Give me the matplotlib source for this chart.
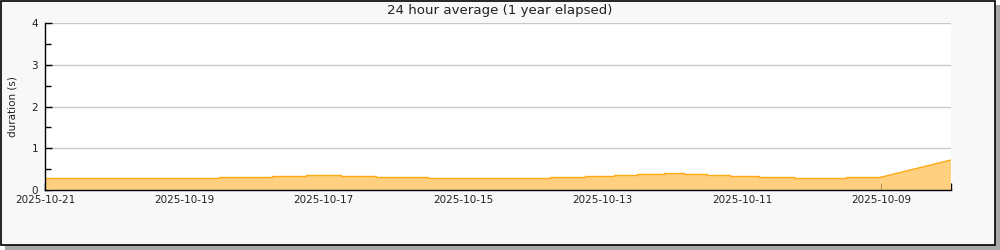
import matplotlib
matplotlib.use('Agg')
import matplotlib.pyplot as plt
import matplotlib.dates as mdates
from matplotlib.patches import Rectangle
import pandas as pd

# step part: start time of each level (oldest first) and its 24h average duration
step_times = ['2025-10-09 00:00', '2025-10-09 12:00', '2025-10-10 06:00', '2025-10-10 18:00',
              '2025-10-11 04:00', '2025-10-11 12:00', '2025-10-11 20:00', '2025-10-12 03:00',
              '2025-10-12 12:00', '2025-10-12 20:00', '2025-10-13 06:00', '2025-10-13 18:00',
              '2025-10-15 12:00', '2025-10-16 06:00', '2025-10-16 18:00', '2025-10-17 06:00',
              '2025-10-17 18:00', '2025-10-18 12:00', '2025-10-21 00:00']
step_values = [0.31, 0.28, 0.31, 0.34, 0.36, 0.38, 0.40, 0.38,
               0.35, 0.33, 0.30, 0.28, 0.30, 0.33, 0.36, 0.33,
               0.30, 0.28, 0.28]

# ramp at the oldest end
ramp_times = ['2025-10-08 00:00', '2025-10-09 00:00']
ramp_values = [0.72, 0.31]

title = '24 hour average (1 year elapsed)'
ylabel = 'duration (s)'
x_start, x_end = '2025-10-21', '2025-10-08'

fill_c = '#ffd080'
line_c = '#ffaa14'

ts = pd.to_datetime(step_times)
tr = pd.to_datetime(ramp_times)

fig = plt.figure(figsize=(10, 2.5), dpi=100, facecolor='white')

# panel frame with a drop shadow
fig.patches.append(Rectangle((5 / 1000, 0), 995 / 1000, 245 / 250, transform=fig.transFigure,
                             facecolor='#a8a8a8', edgecolor='none', zorder=-3))
fig.patches.append(Rectangle((0.5 / 1000, 5.5 / 250), 994 / 1000, 244 / 250, transform=fig.transFigure,
                             facecolor='#f8f8f8', edgecolor='black', linewidth=1.2, zorder=-2))

ax = fig.add_axes([0.045, 0.24, 0.906, 0.6667])
ax.set_facecolor('white')

ax.fill_between(ts, step_values, 0, step='post', facecolor=fill_c, edgecolor='none', zorder=2)
ax.step(ts, step_values, where='post', color=line_c, linewidth=1.0, zorder=3)
ax.fill_between(tr, ramp_values, 0, facecolor=fill_c, edgecolor='none', zorder=2)
ax.plot(tr, ramp_values, color=line_c, linewidth=1.0, zorder=3)

ax.set_xlim(pd.Timestamp(x_start), pd.Timestamp(x_end))
ax.set_ylim(0, 4)

ax.xaxis.set_major_locator(mdates.DayLocator(bymonthday=[9, 11, 13, 15, 17, 19, 21]))
ax.xaxis.set_minor_locator(mdates.DayLocator())
ax.xaxis.set_major_formatter(mdates.DateFormatter('%Y-%m-%d'))
ax.set_yticks([0, 1, 2, 3, 4])
ax.set_yticks([0.5, 1.5, 2.5, 3.5], minor=True)

ax.grid(axis='y', which='major', color='#c8c8c8', linewidth=1.0, zorder=1)
ax.set_axisbelow(True)

for s in ['top', 'right']:
    ax.spines[s].set_visible(False)
for s in ['left', 'bottom']:
    ax.spines[s].set_color('black')
    ax.spines[s].set_linewidth(1.0)
    ax.spines[s].set_zorder(4)

ax.tick_params(axis='both', which='both', direction='in', color='black', width=1.0,
               labelsize=7.5, labelcolor='#222222')
ax.tick_params(axis='both', which='major', length=5)
ax.tick_params(axis='both', which='minor', length=4)
ax.tick_params(axis='x', which='minor', length=5)
ax.tick_params(axis='x', pad=3.5)
ax.tick_params(axis='y', pad=5)
for lab in ax.get_yticklabels():
    lab.set_y(lab.get_position()[1])

ax.set_ylabel(ylabel, fontsize=7.5, color='#222222', labelpad=10)
fig.text(0.4995, 0.957, title, ha='center', va='center', fontsize=9.6, color='#222222')

fig.savefig('out.png', dpi=100, facecolor=fig.get_facecolor())
